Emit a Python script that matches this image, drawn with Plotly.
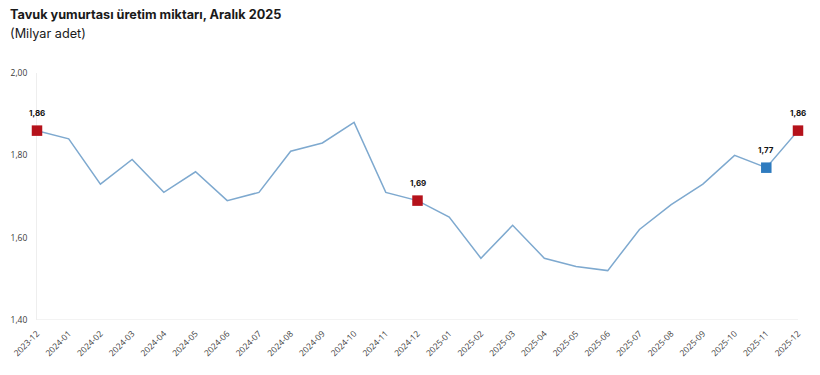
import plotly.graph_objects as go

months = ["2023-12","2024-01","2024-02","2024-03","2024-04","2024-05","2024-06","2024-07",
          "2024-08","2024-09","2024-10","2024-11","2024-12","2025-01","2025-02","2025-03",
          "2025-04","2025-05","2025-06","2025-07","2025-08","2025-09","2025-10","2025-11","2025-12"]
values = [1.86,1.84,1.73,1.79,1.71,1.76,1.69,1.71,1.81,1.83,1.88,1.71,1.69,1.65,1.55,1.63,
          1.55,1.53,1.52,1.62,1.68,1.73,1.80,1.77,1.86]

red_months = ["2023-12","2024-12","2025-12"]
blue_months = ["2025-11"]
red_vals = [values[months.index(m)] for m in red_months]
blue_vals = [values[months.index(m)] for m in blue_months]

y_ticks = [1.40, 1.60, 1.80, 2.00]

# page body has an 8px margin; compensate so the plot lands where the reference has it
L, R, T, B = 29, 30, 65, 63
PW, PH = 820 - L - R, 375 - T - B

fig = go.Figure()
fig.add_trace(go.Scatter(x=months, y=values, mode="lines",
                         line=dict(color="#7ea9cf", width=1.5), hoverinfo="skip"))
fig.add_trace(go.Scatter(x=red_months, y=red_vals, mode="markers",
                         marker=dict(symbol="square", size=10.5, color="#b5121b")))
fig.add_trace(go.Scatter(x=blue_months, y=blue_vals, mode="markers",
                         marker=dict(symbol="square", size=10.5, color="#2e7bbf")))

for m, v in list(zip(red_months, red_vals)) + list(zip(blue_months, blue_vals)):
    fig.add_annotation(x=m, y=v, text=f"<b>{v:.2f}</b>".replace(".", ","),
                       showarrow=False, yshift=18, xanchor="center", yanchor="middle",
                       font=dict(family="Inter, sans-serif", size=8, color="#111111"))

tick_font = dict(family="Open Sans, sans-serif", size=8.5, color="#3a3a3a")

fig.update_layout(
    width=820, height=375,
    margin=dict(l=L, r=R, t=T, b=B, autoexpand=False),
    paper_bgcolor="white", plot_bgcolor="white",
    showlegend=False,
    separators=",.",
    xaxis=dict(type="category", categoryorder="array", categoryarray=months,
               tickangle=-45, tickfont=tick_font,
               showgrid=False, showline=False, zeroline=False, ticks="",
               ticklabelstandoff=6,
               range=[0, len(months) - 1], automargin=False),
    yaxis=dict(range=[1.40, 2.00], tickvals=y_ticks, tickformat=".2f",
               tickfont=tick_font,
               showgrid=False, zeroline=False, showline=True, linecolor="#eeeeee", linewidth=1,
               ticks="", ticklabelstandoff=7, automargin=False, layer="below traces"),
)
fig.add_annotation(text="<b>Tavuk yumurtası üretim miktarı, Aralık 2025</b>",
                   xref="paper", yref="paper", x=-L / PW, y=1 + (T - 6) / PH,
                   xanchor="left", yanchor="middle", showarrow=False,
                   font=dict(family="Inter, sans-serif", size=12.7, color="#1a1a1a"))
fig.add_annotation(text="(Milyar adet)",
                   xref="paper", yref="paper", x=-L / PW, y=1 + (T - 25) / PH,
                   xanchor="left", yanchor="middle", showarrow=False,
                   font=dict(family="Inter, sans-serif", size=12.7, color="#1a1a1a"))
fig.add_shape(type="line", xref="paper", yref="y", x0=0, x1=1, y0=1.40, y1=1.40,
              line=dict(color="#e6e6e6", width=1), layer="below")
fig.update_traces(cliponaxis=False)

fig.write_html("out.html")
